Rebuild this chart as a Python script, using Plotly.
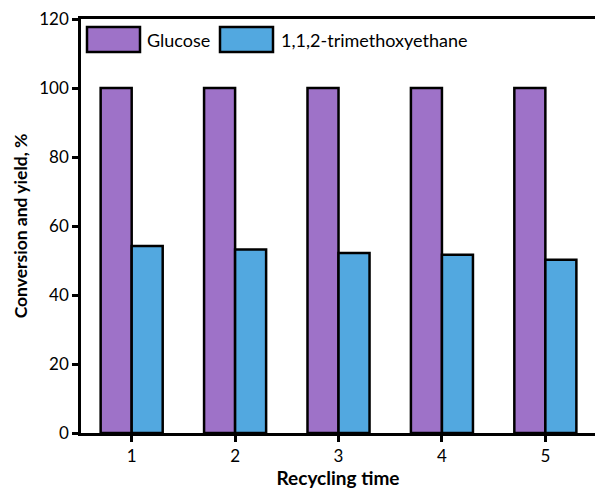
import plotly.graph_objects as go

cycles = [1, 2, 3, 4, 5]
glucose = [100, 100, 100, 100, 100]
tme = [54.2, 53.2, 52.2, 51.7, 50.2]
names = ["Glucose", "1,1,2-trimethoxyethane"]
colors = ["#9E72C8", "#52A8E0"]

FONT = "Lato"
W, H = 595, 495
L, R, T, B = 81, 0, 19, 62

fig = go.Figure()
for name, vals, col in zip(names, [glucose, tme], colors):
    fig.add_trace(go.Bar(x=cycles, y=vals, name=name, marker=dict(color=col, line=dict(color="black", width=2.5)),
                         showlegend=False))

# custom legend (large boxes)
pw = W - L - R
ph = H - T - B
def px(x):
    return (x - L) / pw
def py(y):
    return (H - B - y) / ph

shapes = []
annotations = []
boxes = [(87, 140, 145), (220, 273, 279)]
for (x0, x1, tx), name, col in zip(boxes, names, colors):
    shapes.append(dict(type="rect", xref="paper", yref="paper", x0=px(x0), x1=px(x1), y0=py(52), y1=py(27),
                       fillcolor=col, line=dict(color="black", width=2.5)))
    annotations.append(dict(xref="paper", yref="paper", x=px(tx), y=py(40), text=name, showarrow=False,
                            xanchor="left", yanchor="middle", font=dict(family=FONT, size=18, color="black")))

fig.update_layout(
    width=W, height=H,
    margin=dict(l=L, r=R, t=T, b=B),
    paper_bgcolor="white", plot_bgcolor="white",
    barmode="group", bargap=0.4, bargroupgap=0,
    shapes=shapes, annotations=annotations,
    font=dict(family=FONT, color="black"),
    xaxis=dict(range=[0.51, 5.48], tickvals=cycles, ticktext=[str(c) for c in cycles],
               showline=True, linecolor="black", linewidth=2.5, mirror=True,
               ticks="outside", ticklen=6, tickwidth=2.5, tickcolor="black",
               showgrid=False, zeroline=False, tickfont=dict(family=FONT, size=17),
               title=dict(text="<b>Recycling time</b>", font=dict(family=FONT, size=19), standoff=7)),
    yaxis=dict(range=[0, 120], tickvals=[0, 20, 40, 60, 80, 100, 120],
               showline=True, linecolor="black", linewidth=2.5,
               ticks="outside", ticklen=6, tickwidth=2.5, tickcolor="black",
               showgrid=False, zeroline=False, tickfont=dict(family=FONT, size=17),
               title=dict(text="<b>Conversion and yield, %</b>", font=dict(family=FONT, size=17.5), standoff=8)),
)

fig.write_html("out.html")
